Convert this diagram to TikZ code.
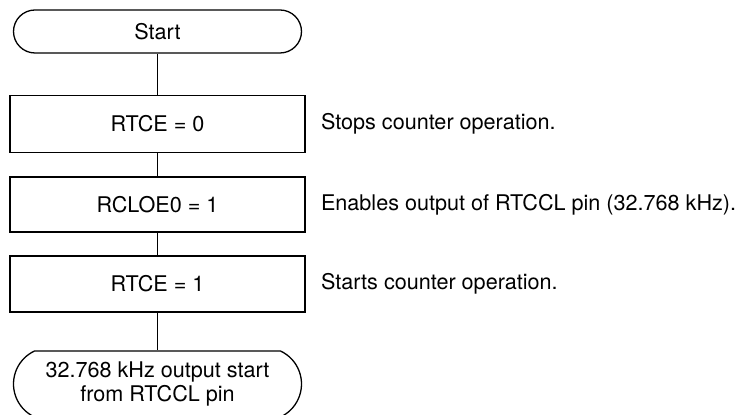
\documentclass[tikz,border=0pt]{standalone}
\usepackage{fontspec}
\setmainfont{TeX Gyre Heros}
\usetikzlibrary{shapes.misc}

\begin{document}
\begin{tikzpicture}[x=0.5pt,y=-0.5pt,
		font=\fontsize{10.8}{11.8}\selectfont,
		terminal/.style={draw,line width=0.65pt,rounded rectangle,inner sep=0pt,minimum width=144pt},
		procbox/.style={draw,line width=0.65pt,rectangle,inner sep=0pt,minimum width=147.5pt},
		remark/.style={anchor=west,inner sep=0pt},
		link/.style={line width=0.4pt}]
	\useasboundingbox (0,0) rectangle (735,415);
	\node[terminal,minimum height=21.5pt] (start) at (157.5,31.5) {Start};
	\node[procbox,minimum height=28.5pt] (rtceoff) at (157.5,124) {RTCE = 0};
	\node[procbox,minimum height=27.5pt] (rcloe) at (157.5,204.5) {RCLOE0 = 1};
	\node[procbox,minimum height=28pt] (rtceon) at (157.5,284) {RTCE = 1};
	\node[terminal,minimum height=33pt,rounded rectangle arc length=130,align=center] (finish) at (157.5,384) {32.768 kHz output start\\from RTCCL pin};
	\foreach \a/\b in {start/rtceoff,rtceoff/rcloe,rcloe/rtceon,rtceon/finish}
		\draw[link] (\a.south) -- (\b.north);
	\node[remark] (noteoff) at ([xshift=7.5pt]rtceoff.east) {Stops counter operation.};
	\node[remark] (notecloe) at ([xshift=7.5pt]rcloe.east) {Enables output of RTCCL pin (32.768 kHz).};
	\node[remark] (noteon) at ([xshift=7.5pt]rtceon.east) {Starts counter operation.};
\end{tikzpicture}
\end{document}
